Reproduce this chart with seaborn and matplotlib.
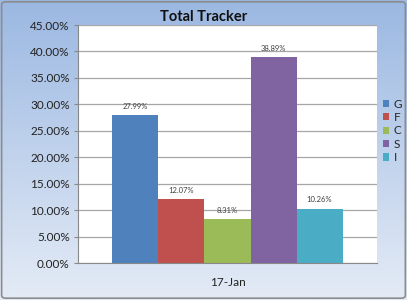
import numpy as np
import pandas as pd
import matplotlib
matplotlib.use("Agg")
import matplotlib.pyplot as plt
import seaborn as sns
from matplotlib.colors import LinearSegmentedColormap
from matplotlib.patches import FancyBboxPatch

categories = ["17-Jan"]
series = ["G", "F", "C", "S", "I"]
values = [27.99, 12.07, 8.31, 38.89, 10.26]
colors = ["#4F81BD", "#C0504D", "#9BBB59", "#8064A2", "#4BACC6"]
yticks = [0, 5, 10, 15, 20, 25, 30, 35, 40, 45]

df = pd.DataFrame({"date": categories * len(series), "series": series, "value": values})

sns.set_theme(style="white")
plt.rcParams["font.family"] = ["Lato", "DejaVu Sans"]

fig = plt.figure(figsize=(4.07, 3.00), dpi=100)

# gradient background
bg = fig.add_axes([0, 0, 1, 1], zorder=-10)
grad = np.linspace(0, 1, 256).reshape(-1, 1)
cmap = LinearSegmentedColormap.from_list("bg", ["#9BB8E2", "#E4EBF6"])
bg.imshow(grad, aspect="auto", cmap=cmap, extent=[0, 1, 0, 1], origin="upper")
bg.add_patch(FancyBboxPatch((0.004, 0.006), 0.992, 0.988, boxstyle="round,pad=0,rounding_size=0.01",
                            transform=bg.transAxes, fill=False, edgecolor="#8C8C8C", linewidth=1.2))
bg.set_xlim(0, 1); bg.set_ylim(0, 1)
bg.axis("off")

ax = fig.add_axes([78 / 407, 37 / 300, 299 / 407, 238 / 300])
ax.set_facecolor("white")
sns.barplot(data=df, x="date", y="value", hue="series", hue_order=series,
            palette=colors, width=0.77, gap=0, saturation=1, ax=ax,
            edgecolor="none", legend=True)

for c, v in zip(ax.containers, values):
    for p in c:
        ax.text(p.get_x() + p.get_width() / 2, v + 1.0, f"{v:.2f}%", ha="center", va="bottom",
                fontsize=5.5, color="#404040")

ax.set_ylim(0, 45)
ax.set_xlim(-0.5, 0.5)
ax.set_yticks(yticks)
ax.set_yticklabels([f"{t:.2f}%" for t in yticks], fontsize=8.5, color="#222222")
ax.yaxis.grid(True, color="#A6A6A6", linewidth=0.9)
ax.set_axisbelow(True)
ax.tick_params(axis="y", length=3, width=0.8, color="#888888", pad=3, left=True)
ax.tick_params(axis="x", labelsize=8.5, colors="#222222", length=0, pad=10)
ax.set_xticks([0])
ax.set_xticklabels(categories)
ax.set_xlabel("")
ax.set_ylabel("")
for s in ["top", "right"]:
    ax.spines[s].set_visible(False)
for s in ["left", "bottom"]:
    ax.spines[s].set_color("#888888")
    ax.spines[s].set_linewidth(0.8)

fig.text(0.5, 1 - 17 / 300, "Total Tracker", ha="center", va="center",
         fontsize=10.5, fontweight="bold", color="#111111")

leg = ax.legend(loc="center left", bbox_to_anchor=(1.02, 0.555), frameon=False, fontsize=8.5,
                handlelength=0.55, handleheight=0.55, handletextpad=0.35, labelspacing=0.2,
                borderaxespad=0, borderpad=0)

fig.savefig("out.png", dpi=100)
